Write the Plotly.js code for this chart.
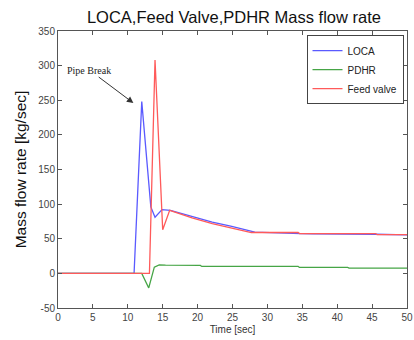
<!DOCTYPE html>
<html>
<head>
<meta charset="utf-8">
<script src="https://cdn.plot.ly/plotly-3.0.1.min.js"></script>
<style>html,body{margin:0;padding:0;background:#fff;}#chart{width:414px;height:340px;}</style>
</head>
<body>
<div id="chart"></div>
<script>
// Time axes (sec) and mass flow rate (kg/sec)
const locaTime = [0, 10.9, 12.0, 13.3, 13.9, 14.9, 16.1, 19.2, 22.1, 24.9, 28.2, 34.8, 36.5, 45.5, 50];
const locaFlow = [0, 0, 248, 96, 81, 92, 91, 82, 74, 68, 59.5, 57.5, 57, 56.5, 55.5];

const pdhrTime = [0, 12.0, 13.0, 13.8, 14.5, 15.4, 20.4, 20.6, 34.4, 34.6, 41.5, 41.7, 50];
const pdhrFlow = [0, 0, -21, 9, 12.3, 12, 11.5, 10, 10, 8.6, 8.6, 7.6, 7.6];

const feedTime = [0, 13.1, 13.9, 15.0, 16.0, 19.2, 22.1, 24.9, 27.7, 34.4, 34.6, 45.5, 45.7, 50];
const feedFlow = [0, 0, 308, 63, 91, 80, 72, 65.5, 59, 59, 57.5, 57.5, 56, 56];

const seriesNames = ['LOCA', 'PDHR', 'Feed valve'];
const xTicks = [0, 5, 10, 15, 20, 25, 30, 35, 40, 45, 50];
const yTicks = [-50, 0, 50, 100, 150, 200, 250, 300, 350];

const traces = [
  {x: locaTime, y: locaFlow, name: seriesNames[0], mode: 'lines', line: {color: 'rgb(90,90,255)', width: 1.3}},
  {x: pdhrTime, y: pdhrFlow, name: seriesNames[1], mode: 'lines', line: {color: 'rgb(70,165,70)', width: 1.3}},
  {x: feedTime, y: feedFlow, name: seriesNames[2], mode: 'lines', line: {color: 'rgb(255,90,90)', width: 1.3}}
];

const axisCommon = {
  showgrid: false, zeroline: false, showline: true, mirror: 'ticks',
  linecolor: '#555', linewidth: 1, ticks: 'inside', ticklen: 4, tickcolor: '#555',
  ticklabeloverflow: 'allow',
  tickfont: {family: 'Arial, Liberation Sans, sans-serif', size: 10, color: '#444'}
};

const layout = {
  width: 414, height: 340,
  margin: {l: 58, r: 7, t: 31, b: 32},
  paper_bgcolor: '#fff', plot_bgcolor: '#fff',
  title: {text: 'LOCA,Feed Valve,PDHR Mass flow rate', x: 0.565, xanchor: 'center', y: 0.95, yanchor: 'middle',
          font: {family: 'Arial, Liberation Sans, sans-serif', size: 16.5, color: '#111'}},
  xaxis: Object.assign({}, axisCommon, {range: [0, 50], tickvals: xTicks, ticktext: xTicks.map(String),
          title: {text: 'Time [sec]', standoff: 3, font: {family: 'Arial, Liberation Sans, sans-serif', size: 10, color: '#333'}}}),
  yaxis: Object.assign({}, axisCommon, {range: [-50, 350], tickvals: yTicks, ticktext: yTicks.map(String),
          title: {text: 'Mass flow rate [kg/sec]', standoff: 7, font: {family: 'Arial, Liberation Sans, sans-serif', size: 15.5, color: '#111'}}}),
  showlegend: true,
  legend: {x: 0.99, y: 0.985, xanchor: 'right', yanchor: 'top', bgcolor: '#fff', bordercolor: '#444', borderwidth: 1,
           font: {family: 'Arial, Liberation Sans, sans-serif', size: 10, color: '#222'}, tracegroupgap: 0, itemwidth: 30},
  annotations: [{
    x: 10.8, y: 246, xref: 'x', yref: 'y', text: 'Pipe Break', showarrow: true,
    ax: -44, ay: -33, arrowhead: 2, arrowsize: 1.3, arrowwidth: 1, arrowcolor: '#333',
    font: {family: 'Liberation Serif, Times New Roman, serif', size: 10, color: '#222'}
  }]
};

Plotly.newPlot('chart', traces, layout, {displayModeBar: false, staticPlot: true});
</script>
</body>
</html>
